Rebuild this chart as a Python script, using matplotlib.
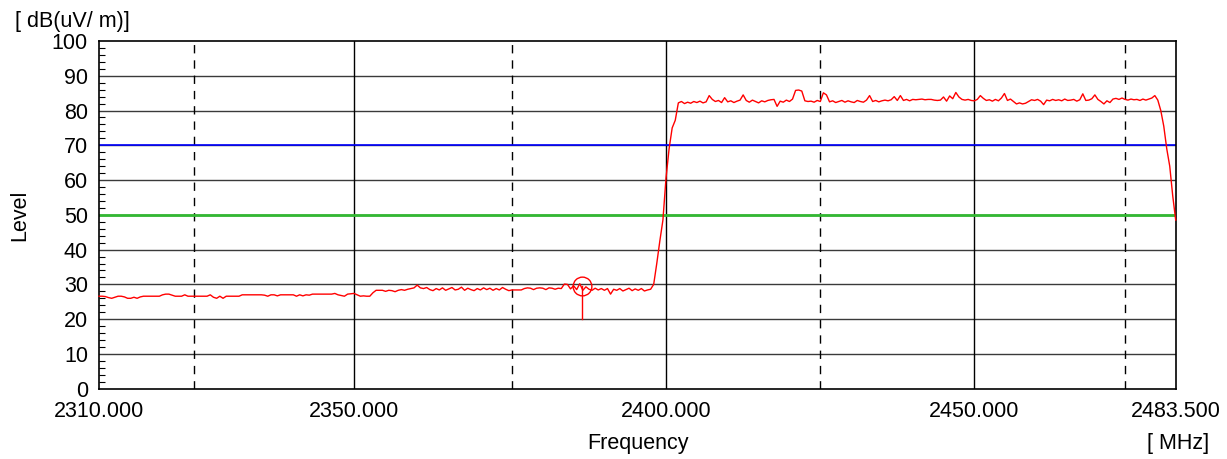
import numpy as np
import matplotlib
matplotlib.use("Agg")
import matplotlib.pyplot as plt
from matplotlib.ticker import MultipleLocator

plt.rcParams['font.family'] = ['Liberation Sans', 'DejaVu Sans']

# ---- data ----
f_start, f_stop = 2310.0, 2483.5
level = [
    26.6, 26.6, 26.5, 26.2, 26.0, 26.3, 26.6, 26.6, 26.4, 26.0, 26.0, 26.3, 26.0, 26.4, 26.6, 26.6, 26.6, 26.6, 26.6, 26.6,
    27.0, 27.2, 27.2, 26.9, 26.6, 26.6, 26.6, 27.0, 26.6, 26.6, 26.6, 26.6, 26.6, 26.6, 26.6, 27.0, 26.3, 26.0, 26.6, 26.0,
    26.6, 26.6, 26.6, 26.6, 26.6, 27.0, 27.0, 27.0, 27.0, 27.0, 27.0, 27.0, 26.9, 26.6, 27.0, 27.0, 26.7, 27.0, 27.0, 27.0,
    27.0, 27.0, 26.6, 27.0, 26.7, 27.0, 26.9, 27.2, 27.2, 27.2, 27.2, 27.2, 27.2, 27.2, 27.4, 27.0, 26.8, 26.6, 27.2, 27.3,
    27.4, 27.0, 26.6, 26.7, 26.6, 26.6, 27.6, 28.3, 28.3, 28.3, 28.0, 28.3, 28.2, 27.9, 28.3, 28.5, 28.3, 28.6, 28.8, 29.0,
    29.8, 29.0, 28.8, 29.1, 28.5, 28.2, 28.8, 28.4, 29.0, 28.3, 28.7, 29.1, 28.4, 28.6, 29.2, 28.3, 28.9, 28.5, 28.2, 28.8,
    28.4, 29.0, 28.5, 28.9, 28.3, 28.8, 28.4, 29.1, 28.6, 28.2, 28.4, 28.4, 28.4, 28.4, 28.8, 29.0, 28.9, 28.5, 28.9, 29.0,
    28.9, 28.5, 29.0, 28.9, 28.6, 28.9, 28.8, 30.1, 30.0, 28.7, 29.6, 28.5, 30.2, 28.3, 29.3, 28.6, 28.3, 28.9, 28.4, 28.8,
    28.3, 28.8, 27.2, 28.6, 28.3, 28.8, 28.1, 28.5, 28.9, 28.2, 28.7, 28.3, 28.8, 28.1, 28.4, 28.6, 30.0, 36.0, 42.5, 48.5,
    60.5, 69.0, 75.0, 77.2, 82.2, 82.6, 82.0, 82.4, 82.1, 82.6, 82.3, 82.7, 82.2, 82.5, 84.3, 83.2, 82.6, 82.9, 82.3, 83.7,
    82.5, 82.8, 82.3, 82.7, 83.0, 84.5, 82.9, 82.4, 83.0, 82.6, 82.2, 82.8, 82.5, 82.9, 83.1, 83.2, 81.2, 82.7, 82.4, 83.0,
    82.6, 83.3, 85.8, 85.9, 85.6, 82.8, 82.6, 82.7, 82.4, 82.9, 82.6, 85.1, 84.5, 82.5, 82.8, 82.3, 82.6, 82.9, 82.4, 82.8,
    82.5, 82.3, 82.9, 82.6, 82.4, 83.0, 84.3, 82.6, 82.9, 82.5, 82.8, 83.0, 82.8, 83.1, 84.0, 82.9, 84.3, 82.9, 83.2, 82.8,
    83.2, 83.1, 83.2, 83.3, 83.1, 83.2, 83.2, 83.0, 82.9, 83.0, 83.9, 82.7, 84.2, 83.4, 85.2, 83.9, 83.2, 83.0, 83.2, 82.9,
    82.8, 83.2, 84.3, 83.5, 82.9, 83.1, 82.7, 83.2, 82.8, 83.6, 84.9, 82.9, 83.3, 82.6, 81.9, 82.2, 81.9, 82.1, 82.6, 83.1,
    82.9, 83.2, 82.7, 81.7, 83.0, 82.8, 83.2, 82.9, 83.1, 82.8, 83.3, 82.9, 83.0, 83.2, 82.7, 83.1, 84.8, 82.9, 83.0, 83.4,
    84.5, 83.2, 82.6, 81.9, 82.8, 82.3, 83.3, 83.5, 83.2, 83.6, 83.2, 83.0, 83.3, 83.1, 83.2, 82.9, 83.3, 83.0, 83.3, 83.6,
    84.3, 83.0, 80.0, 75.5, 69.0, 64.0, 55.5, 48.5,
]
freq = np.linspace(f_start, f_stop, len(level))

limit_avg = 50.0
limit_peak = 70.0
marker_freq = 2386.3
marker_level = 29.5
marker_base = 20.0

x_ticks = [2310.0, 2350.0, 2400.0, 2450.0, 2483.5]
solid_grid = [2350.0, 2400.0, 2450.0]
dashed_grid = [2325.0, 2375.0, 2425.0, 2475.0]

# axis mapping of the original instrument plot (grid positions)
scale_f = [2310.0, 2325.0, 2350.0, 2375.0, 2400.0, 2425.0, 2450.0, 2475.0, 2483.5]
scale_p = [0.0, 95.3, 255.0, 413.0, 567.0, 721.3, 875.3, 1026.0, 1076.7]

def fwd(x):
    return np.interp(x, scale_f, scale_p, left=-1e3, right=2e3)

def inv(p):
    return np.interp(p, scale_p, scale_f)

# ---- figure ----
W, H = 1227, 459
FS = 15.5
fig = plt.figure(figsize=(W / 100, H / 100), dpi=100)
ax = fig.add_axes([99 / W, 1 - 388.7 / H, (1175.7 - 99) / W, (388.7 - 41) / H])
ax.set_xscale('function', functions=(fwd, inv))
ax.set_xlim(f_start, f_stop)
ax.set_ylim(0, 100)

# grid
for yv in range(10, 100, 10):
    ax.axhline(yv, color='#3a3a3a', lw=1.0, zorder=1)
for xv in solid_grid:
    ax.axvline(xv, color='black', lw=1.0, zorder=1)
for xv in dashed_grid:
    ax.axvline(xv, color='black', lw=1.0, ls=(0, (6, 5)), zorder=1)

# limit lines
ax.axhline(limit_peak, color='#0000ff', lw=1.2, zorder=2)
ax.axhline(limit_avg, color='#33b833', lw=2.0, zorder=2)

# trace
ax.plot(freq, level, color='#ff0000', lw=1.0, zorder=3, clip_on=False)

# marker
ax.plot([marker_freq, marker_freq], [marker_base, marker_level], color='#ff0000', lw=1.0, zorder=4)
ax.plot([marker_freq], [marker_level], marker='o', ms=13.5, mfc='none', mec='#ff0000', mew=1.0, zorder=4)

# ticks
ax.set_xticks(x_ticks)
ax.set_xticklabels([f"{v:.3f}" for v in x_ticks])
ax.set_yticks(range(0, 101, 10))
ax.yaxis.set_minor_locator(MultipleLocator(2))
ax.tick_params(axis='x', which='both', length=0, pad=9, labelsize=FS)
ax.tick_params(axis='y', which='major', length=0, pad=8, labelsize=FS)
ax.tick_params(axis='y', which='minor', direction='in', length=4.3, width=0.8)
ax.xaxis.set_minor_locator(plt.NullLocator())

for s in ax.spines.values():
    s.set_linewidth(1.2)
    s.set_color('black')

fig.text(15 / W, 1 - 21 / H, "[ dB(uV/ m)]", fontsize=FS, ha='left', va='center')
fig.text(20 / W, 1 - 215 / H, "Level", fontsize=FS, ha='center', va='center', rotation=90)
fig.text(638 / W, 1 - 444 / H, "Frequency", fontsize=FS, ha='center', va='center')
fig.text(1178 / W, 1 - 444 / H, "[ MHz]", fontsize=FS, ha='center', va='center')

fig.savefig("out.png", dpi=100)
